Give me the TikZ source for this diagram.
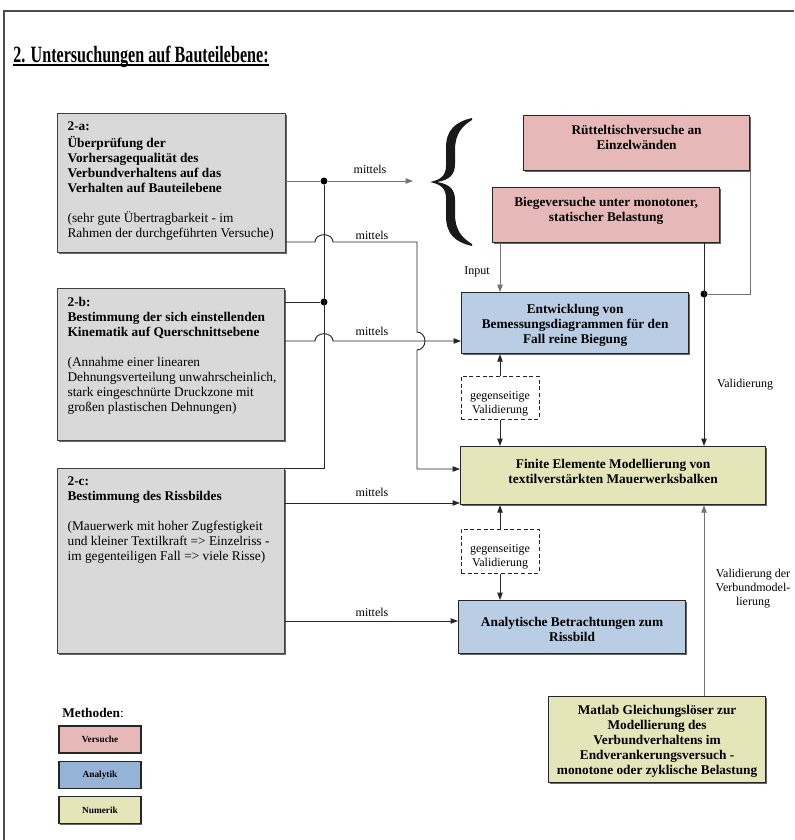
\documentclass[tikz,border=0pt]{standalone}
\usepackage{fontspec}
\setmainfont{Liberation Serif}
\usepackage{graphicx}
\usetikzlibrary{
  arrows.meta,
  calc,
  positioning,
  shadows
}
\definecolor{boxgrey}{RGB}{217,217,217}
\definecolor{testrose}{RGB}{230,185,184}
\definecolor{analblue}{RGB}{185,205,229}
\definecolor{legblue}{RGB}{149,179,215}
\definecolor{numyellow}{RGB}{229,229,186}

% text blocks with fixed size, text at the top
\newcommand{\ltext}[4]{\parbox[c][#2][t]{#1}{\raggedright\vspace*{#3}\strut#4\par}}
\newcommand{\ctext}[4]{\parbox[c][#2][t]{#1}{\centering\vspace*{#3}\strut#4\par}}
% thick underline
\newcommand{\thickul}[1]{\setbox0\hbox{#1}\rlap{\rule[-2.8pt]{\wd0}{1.3pt}}\box0}

\begin{document}
\begin{tikzpicture}[
      x=0.75pt, y=-0.75pt,
      taskbox/.style={
         rectangle,
         anchor=north west,
         line width=0.9pt,
         draw=black!75,
         fill=boxgrey,
         inner xsep=7.5pt, inner ysep=0pt,
         drop shadow={shadow xshift=0.8pt,shadow yshift=-0.8pt,fill=black!60,opacity=1},
         font=\fontsize{10}{11.25}\selectfont
      },
      methbox/.style={
         rectangle,
         anchor=north west,
         line width=0.9pt,
         draw=black!85,
         inner xsep=3pt, inner ysep=0pt,
         drop shadow={shadow xshift=0.8pt,shadow yshift=-0.8pt,fill=black!60,opacity=1},
         font=\fontsize{10}{11.25}\selectfont\bfseries
      },
      valbox/.style={
         rectangle,
         draw=black!85,
         line width=0.75pt,
         dash pattern=on 3pt off 2pt,
         fill=white,
         inner xsep=3pt, inner ysep=0pt,
         font=\fontsize{9}{10.5}\selectfont
      },
      legbox/.style={
         rectangle,
         draw=black!85,
         line width=0.8pt,
         minimum width=61.5pt, minimum height=20.25pt,
         inner sep=0pt,
         drop shadow={shadow xshift=0.7pt,shadow yshift=-0.7pt,fill=black!60,opacity=1},
         font=\fontsize{7}{8}\selectfont\bfseries
      },
      lbl/.style={font=\fontsize{9}{10.5}\selectfont, inner sep=0pt},
      point/.style={coordinate},
      dot/.style={circle, fill=black, inner sep=0pt, minimum size=5.25pt},
      conn/.style={line width=0.7pt, draw=black!85},
      pale/.style={draw=black!55},
      pageframe/.style={line width=0.9pt, draw=black!70},
      >={Triangle[length=5.5pt,width=4pt]},
      tip/.style={->,shorten >=0.007pt}
    ]
  \useasboundingbox (0,0) rectangle (794,840);
  \draw[pageframe] (4,840) -- (4,11) -- (794,11);

  % title
  \node (title) [anchor=base west, inner sep=0pt, font=\fontsize{17.5}{20}\selectfont\bfseries]
     at (13,62) {\scalebox{0.69}[1]{\thickul{2. Untersuchungen auf Bauteilebene:}}};

  % tasks
  \node (ta) [taskbox] at (57,113) {\ltext{156pt}{104.25pt}{4.5pt}{\textbf{2-a:\\
     \"Uberpr\"ufung der\\Vorhersagequalit\"at des\\Verbundverhaltens auf das\\
     Verhalten auf Bauteilebene}\\[11.25pt]
     (sehr gute \"Ubertragbarkeit - im\\Rahmen der durchgef\"uhrten Versuche)}};
  \node (tb) [taskbox] at (57,288) {\ltext{155.25pt}{114pt}{5.5pt}{\textbf{2-b:\\
     Bestimmung der sich einstellenden\\Kinematik auf Querschnittsebene}\\[11.25pt]
     (Annahme einer linearen\\\mbox{Dehnungsverteilung unwahrscheinlich,}\\
     stark eingeschn\"urte Druckzone mit\\gro\ss en plastischen Dehnungen)}};
  \node (tc) [taskbox] at (57,468) {\ltext{155.25pt}{138.75pt}{4.5pt}{\textbf{2-c:\\
     Bestimmung des Rissbildes}\\[11.25pt]
     (Mauerwerk mit hoher Zugfestigkeit\\und kleiner Textilkraft => Einzelriss -\\
     im gegenteiligen Fall => viele Risse)}};

  % methods
  \node (ruettel) [methbox, fill=testrose] at (523,115)
     {\ctext{163.5pt}{41.25pt}{6pt}{R\"utteltischversuche an\\Einzelw\"anden}};
  \node (biege) [methbox, fill=testrose] at (492,187)
     {\ctext{164.25pt}{41.25pt}{6pt}{Biegeversuche unter monotoner,\\statischer Belastung}};
  \node (entw) [methbox, fill=analblue] at (461,292)
     {\ctext{164.25pt}{45.75pt}{7.5pt}{Entwicklung von\\Bemessungsdiagrammen f\"ur den\\Fall reine Biegung}};
  \node (fem) [methbox, fill=numyellow] at (460,446)
     {\ctext{222.75pt}{43.5pt}{8.25pt}{Finite Elemente Modellierung von\\textilverst\"arkten Mauerwerksbalken}};
  \node (analyt) [methbox, fill=analblue] at (458,600)
     {\ctext{164.25pt}{39.75pt}{11.25pt}{Analytische Betrachtungen zum\\Rissbild}};
  \node (matlab) [methbox, fill=numyellow] at (548,696)
     {\ctext{156.75pt}{64.5pt}{5.25pt}{Matlab Gleichungsl\"oser zur\\Modellierung des\\
     Verbundverhaltens im\\Endverankerungsversuch -\\monotone oder zyklische Belastung}};

  \node (val1) [valbox] at (500,397.5) {\ctext{52.5pt}{32.25pt}{10.3pt}{gegenseitige\\Validierung}};
  \node (val2) [valbox] at (500,551) {\ctext{52.5pt}{33pt}{10.6pt}{gegenseitige\\Validierung}};

  % brace
  \fill[black!90] (472,118) .. controls (455,122) and (446,130) .. (446,148) -- (446,166)
     .. controls (446,176) and (440,180) .. (430,182) .. controls (440,184) and (446,188) .. (446,198)
     -- (446,216) .. controls (446,234) and (455,242) .. (472,246) -- (472,244)
     .. controls (462,238) and (455,230) .. (455,214) -- (455,200)
     .. controls (455,190) and (450,184) .. (437,182) .. controls (450,180) and (455,174) .. (455,164)
     -- (455,150) .. controls (455,134) and (462,126) .. (472,120) -- cycle;

  % junctions
  \node (d1) [dot] at (324,181) {};
  \node (d2) [dot] at (324,302) {};
  \node (d3) [point] at (324,468) {};
  \node (d4) [dot] at (704,294) {};
  \node (bt) [point] at (413,181) {};
  \node (k1) [point] at (417,242) {};
  \node (j2) [point] at (417,341) {};
  \node (k2) [point] at (417,469) {};
  \node (r3) [point] at (0,503) {};
  \node (r4) [point] at (0,621) {};

  % connectors
  \draw[conn,pale] (ta.east |- d1) -- (d1);
  \draw[conn,pale,tip] (d1) -- (bt);
  \draw[conn] (tb.east |- d2) -- (d2);
  \draw[conn] (tc.north east) -- (d3) -- (d1);
  \draw[conn,tip] (ta.east |- k1) -- ($(d1 |- k1)+(-9,0)$)
     arc[start angle=180,end angle=0,x radius=6.75pt,y radius=5.5pt] -- (k1)
     -- ($(j2)+(0,-9)$) arc[start angle=90,end angle=-90,x radius=6pt,y radius=6.75pt]
     -- (k2) -- (fem.west |- k2);
  \draw[conn,tip] (tb.east |- j2) -- ($(d1 |- j2)+(-9,0)$)
     arc[start angle=180,end angle=0,x radius=6.75pt,y radius=5.5pt] -- (entw.west |- j2);
  \draw[conn,tip] (tc.east |- r3) -- (fem.west |- r3);
  \draw[conn,tip] (tc.east |- r4) -- (analyt.west |- r4);

  \draw[conn,pale,tip] (biege.south -| val1) -- (entw.north -| val1);
  \draw[conn,tip] (val1) -- (entw.south -| val1);
  \draw[conn,tip] (val1) -- (fem.north -| val1);
  \draw[conn,tip] (val2) -- (fem.south -| val2);
  \draw[conn,tip] (val2) -- (analyt.north -| val2);

  \draw[conn,pale] (ruettel.south east) |- (d4);
  \draw[conn,tip] (biege.south -| d4) -- (fem.north -| d4);
  \draw[conn,pale,tip] (matlab.north -| d4) -- (fem.south -| d4);

  % labels
  \node (m1) [lbl] at (370,169) {mittels};
  \node (m2) [lbl] at (372,235) {mittels};
  \node (m3) [lbl] at (372,331) {mittels};
  \node (m4) [lbl] at (372,492) {mittels};
  \node (m5) [lbl] at (372,612) {mittels};
  \node (inp) [lbl] at (477,272) {Input};
  \node (vtxt) [lbl] at (745,385) {Validierung};
  \node (vmod) [lbl, align=center] at (753,589) {Validierung der\\Verbundmodel-\\lierung};

  % legend
  \node (meth) [anchor=west, inner sep=0pt, font=\fontsize{10}{12}\selectfont] at (62,713) {\textbf{Methoden}:};
  \node (lv) [legbox, fill=testrose] at (100,739.5) {Versuche};
  \node (la) [legbox, fill=legblue, below=5.5pt of lv] {Analytik};
  \node (ln) [legbox, fill=numyellow, below=5.5pt of la] {Numerik};
\end{tikzpicture}
\end{document}
